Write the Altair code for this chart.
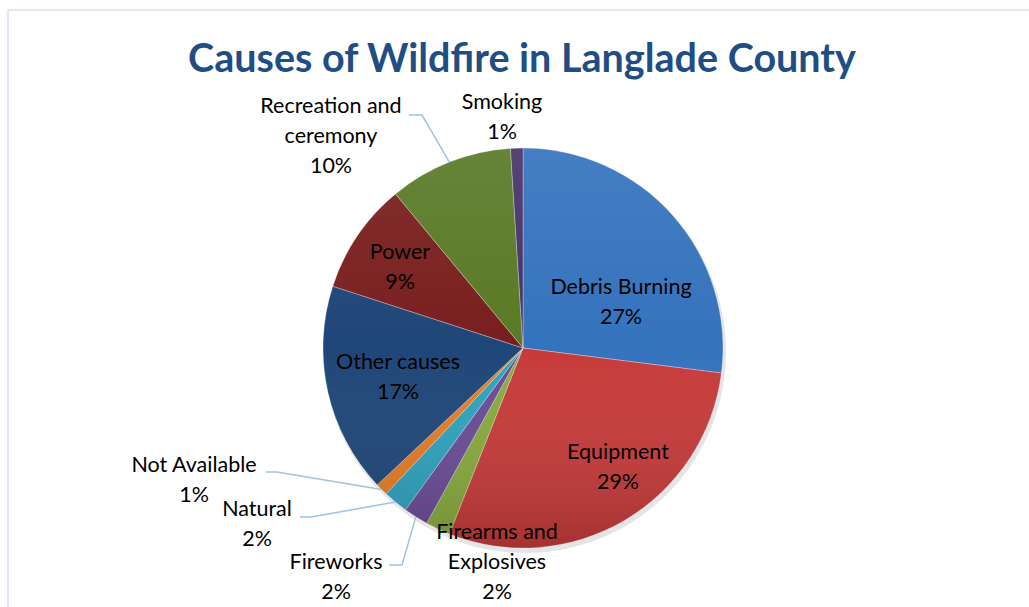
import math
import altair as alt
import pandas as pd

# ---- data ----
categories = ["Debris Burning", "Equipment", "Firearms and Explosives", "Fireworks",
              "Natural", "Not Available", "Other causes", "Power",
              "Recreation and ceremony", "Smoking"]
percents = [27, 29, 2, 2, 2, 1, 17, 9, 10, 1]
label_lines = [["Debris Burning", "27%"], ["Equipment", "29%"],
               ["Firearms and", "Explosives", "2%"], ["Fireworks", "2%"],
               ["Natural", "2%"], ["Not Available", "1%"],
               ["Other causes", "17%"], ["Power", "9%"],
               ["Recreation and", "ceremony", "10%"], ["Smoking", "1%"]]
colors = ["#3573bd", "#c63b3a", "#88aa3e", "#6a4c96", "#2fa2be", "#e47c24",
          "#1f4678", "#781f1e", "#5a7a26", "#46336a"]

# ---- layout ----
CX, CY, R = 523, 348, 200
label_pos = [(621, 288), (618, 453), (497, 533), (336, 563), (257, 510),
             (194, 466), (398, 363), (400, 253), (331, 107), (502, 103)]
leader_elbows = {"Recreation and ceremony": [(409, 115), (422, 115)],
                 "Not Available": [(266, 472), (277, 472)],
                 "Natural": [(300, 517), (311, 517)],
                 "Fireworks": [(389, 565), (402, 565)]}
LINE_H = 30
FONT = "Lato"

pie_df = pd.DataFrame({"cause": categories, "pct": percents,
                       "idx": list(range(len(categories)))})

rows = []
for cat, lines, (lx, ly) in zip(categories, label_lines, label_pos):
    for i, t in enumerate(lines):
        rows.append({"cause": cat, "text": t, "px": lx, "py": ly + i * LINE_H})
lab_df = pd.DataFrame(rows)

total = sum(percents)
cum = 0
lrows = []
for cat, p in zip(categories, percents):
    mid = (cum + p / 2) / total * 2 * math.pi
    cum += p
    if cat in leader_elbows:
        pts = leader_elbows[cat] + [(CX + R * math.sin(mid), CY - R * math.cos(mid))]
        for k, (x, y) in enumerate(pts):
            lrows.append({"cause": cat, "k": k, "px": x, "py": y})
lead_df = pd.DataFrame(lrows)

frame = alt.Chart(pd.DataFrame({"a": [0]})).mark_rect(
    fillOpacity=0, stroke="#d5e2f3", strokeWidth=1.5
).encode(x=alt.value(8), y=alt.value(10), x2=alt.value(1100), y2=alt.value(700))

shadow = alt.Chart(pd.DataFrame({"a": [0]})).mark_arc(
    theta=0, theta2=2 * math.pi, radius=201, fill="#000000", opacity=0.10
).encode(x=alt.value(CX + 2), y=alt.value(CY + 4))

pie = alt.Chart(pie_df).mark_arc(radius=R, stroke="#ffffff", strokeWidth=0.3).encode(
    theta=alt.Theta("pct:Q", stack=True),
    color=alt.Color("cause:N", scale=alt.Scale(domain=categories, range=colors), legend=None),
    order=alt.Order("idx:Q"),
    x=alt.value(CX), y=alt.value(CY),
)

shade = alt.Chart(pd.DataFrame({"a": [0]})).mark_arc(
    theta=0, theta2=2 * math.pi, radius=R,
    fill=alt.Gradient(gradient="linear", x1=0, x2=0, y1=0, y2=1, stops=[
        alt.GradientStop(offset=0, color="rgba(255,255,255,0.08)"),
        alt.GradientStop(offset=0.5, color="rgba(255,255,255,0)"),
        alt.GradientStop(offset=1, color="rgba(0,0,0,0.16)")])
).encode(x=alt.value(CX), y=alt.value(CY))

leaders = alt.Chart(lead_df).mark_line(color="#9dc3e6", strokeWidth=1.5).encode(
    x=alt.X("px:Q", scale=None), y=alt.Y("py:Q", scale=None),
    detail="cause:N", order="k:Q")

labels = alt.Chart(lab_df).mark_text(
    font=FONT, fontSize=21.5, color="#000000", align="center", baseline="middle"
).encode(x=alt.X("px:Q", scale=None), y=alt.Y("py:Q", scale=None), text="text:N")

title = alt.Chart(pd.DataFrame({"t": ["Causes of Wildfire in Langlade County"]})).mark_text(
    font=FONT, fontSize=39.5, fontWeight="bold", color="#1f4e84",
    align="center", baseline="middle"
).encode(x=alt.value(522), y=alt.value(60), text="t:N")

chart = alt.layer(frame, shadow, pie, shade, leaders, labels, title).properties(
    width=1029, height=607, padding=0, autosize=alt.AutoSizeParams(type="none"),
    background="#ffffff"
).configure_view(stroke=None)

chart.save("out.html", embed_options={"renderer": "svg", "actions": False})
